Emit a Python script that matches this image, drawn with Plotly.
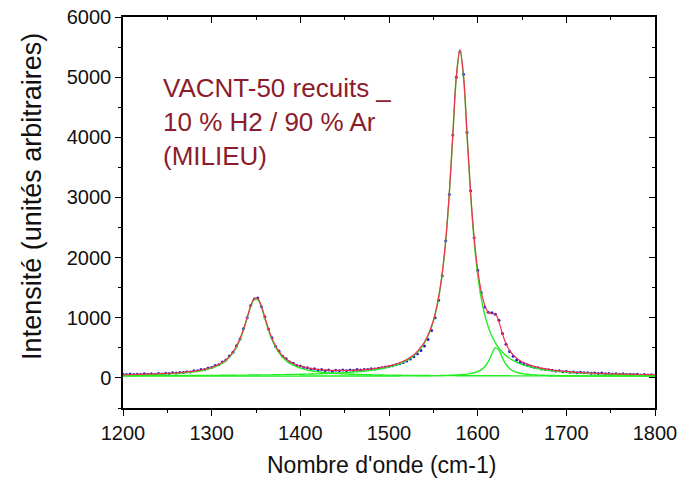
import plotly.graph_objects as go

# Raman shift grid (cm-1), sampled every 4 cm-1
wavenumber = list(range(1200, 1801, 4))

# Measured spectrum (blue dots)
intensity = [
    62, 58, 66, 55, 63, 58, 68, 60, 70, 62,
    72, 66, 78, 72, 84, 80, 91, 90, 102, 100,
    118, 119, 138, 141, 165, 172, 205, 221, 266, 298,
    365, 425, 536, 648, 822, 1000, 1204, 1312, 1330, 1188,
    1015, 812, 668, 528, 446, 362, 320, 266, 244, 208,
    198, 172, 170, 150, 152, 132, 140, 118, 130, 112,
    128, 120, 130, 118, 132, 124, 138, 130, 142, 140,
    152, 150, 160, 170, 180, 190, 204, 218, 236, 258,
    282, 316, 352, 400, 455, 530, 640, 790, 1000, 1290,
    1700, 2280, 3050, 4040, 5000, 5420, 5050, 4080, 3110, 2330,
    1790, 1420, 1180, 1090, 1085, 1060, 960, 740, 560, 440,
    360, 300, 262, 230, 210, 192, 176, 168, 150, 146,
    134, 126, 116, 120, 104, 108, 95, 99, 88, 93,
    84, 88, 76, 83, 72, 80, 70, 74, 64, 70,
    60, 68, 58, 63, 55, 61, 49, 58, 50, 54,
    44,
]

# Cumulative fit (red line)
fit_total = [
    53, 55, 56, 57, 58, 60, 61, 63, 64, 66,
    69, 71, 74, 77, 80, 84, 88, 94, 99, 106,
    113, 122, 132, 144, 159, 177, 198, 225, 259, 302,
    358, 431, 528, 654, 815, 1006, 1195, 1321, 1322, 1197,
    1009, 820, 660, 535, 440, 368, 314, 272, 239, 214,
    195, 179, 166, 156, 148, 141, 136, 132, 129, 127,
    125, 125, 125, 126, 127, 129, 132, 135, 139, 144,
    150, 157, 165, 175, 186, 199, 214, 231, 252, 277,
    307, 343, 387, 442, 511, 598, 712, 863, 1066, 1346,
    1740, 2297, 3070, 4054, 5026, 5459, 5034, 4070, 3097, 2338,
    1801, 1439, 1210, 1091, 1068, 1062, 932, 730, 568, 458,
    383, 328, 287, 255, 229, 208, 190, 175, 162, 151,
    141, 132, 125, 118, 112, 107, 102, 97, 93, 90,
    86, 83, 81, 78, 76, 73, 71, 69, 68, 66,
    64, 63, 62, 60, 59, 58, 57, 56, 55, 54,
    53,
]

# Fit components (green lines): D band, G band, D' band
comp_D = [
    46, 47, 48, 49, 50, 52, 53, 55, 56, 58,
    60, 62, 65, 68, 71, 74, 79, 83, 89, 95,
    102, 110, 120, 132, 146, 164, 185, 212, 245, 288,
    344, 416, 512, 638, 799, 988, 1177, 1302, 1302, 1177,
    988, 799, 638, 512, 416, 344, 288, 245, 212, 185,
    164, 146, 132, 120, 110, 102, 95, 89, 83, 79,
    74, 71, 68, 65, 62, 60, 58, 56, 55, 53,
    52, 50, 49, 48, 47, 46, 46, 45, 44, 43,
    43, 42, 42, 41, 41, 40, 40, 39, 39, 39,
    38, 38, 38, 38, 37, 37, 37, 37, 36, 36,
    36, 36, 36, 35, 35, 35, 35, 35, 35, 35,
    34, 34, 34, 34, 34, 34, 34, 34, 34, 34,
    33, 33, 33, 33, 33, 33, 33, 33, 33, 33,
    33, 33, 33, 33, 33, 32, 32, 32, 32, 32,
    32, 32, 32, 32, 32, 32, 32, 32, 32, 32,
    32,
]
comp_G = [
    37, 37, 37, 37, 37, 38, 38, 38, 38, 38,
    39, 39, 39, 39, 39, 40, 40, 40, 40, 41,
    41, 41, 42, 42, 42, 43, 43, 43, 44, 44,
    45, 45, 46, 46, 47, 47, 48, 48, 49, 50,
    50, 51, 52, 53, 54, 55, 56, 57, 58, 59,
    60, 62, 63, 65, 66, 68, 70, 72, 75, 77,
    80, 83, 86, 89, 93, 98, 102, 107, 113, 120,
    127, 135, 144, 154, 166, 180, 195, 213, 235, 260,
    290, 327, 371, 426, 495, 582, 696, 846, 1049, 1328,
    1721, 2277, 3049, 4031, 5000, 5430, 5000, 4031, 3049, 2277,
    1721, 1328, 1049, 846, 696, 582, 495, 426, 371, 327,
    290, 260, 235, 213, 195, 180, 166, 154, 144, 135,
    127, 120, 113, 107, 102, 98, 93, 89, 86, 83,
    80, 77, 75, 72, 70, 68, 66, 65, 63, 62,
    60, 59, 58, 57, 56, 55, 54, 53, 52, 51,
    50,
]
comp_Dprime = [
    30, 30, 30, 30, 30, 30, 30, 30, 30, 30,
    30, 30, 30, 30, 30, 30, 30, 30, 30, 30,
    30, 30, 30, 30, 30, 30, 30, 30, 30, 30,
    30, 30, 30, 30, 30, 30, 30, 30, 30, 30,
    30, 30, 30, 30, 30, 30, 30, 30, 30, 30,
    31, 31, 31, 31, 31, 31, 31, 31, 31, 31,
    31, 31, 31, 31, 31, 32, 32, 32, 32, 32,
    32, 32, 32, 32, 33, 33, 33, 33, 33, 34,
    34, 34, 35, 35, 35, 36, 37, 37, 38, 39,
    40, 42, 44, 46, 49, 52, 57, 63, 72, 85,
    105, 135, 186, 270, 397, 504, 462, 329, 223, 157,
    118, 94, 78, 67, 60, 54, 50, 47, 45, 43,
    41, 40, 39, 38, 37, 36, 36, 35, 35, 34,
    34, 34, 33, 33, 33, 33, 33, 32, 32, 32,
    32, 32, 32, 32, 32, 32, 31, 31, 31, 31,
    31,
]

for arr in (intensity, fit_total, comp_D, comp_G, comp_Dprime):
    assert len(arr) == len(wavenumber), len(arr)

x_ticks = [1200, 1300, 1400, 1500, 1600, 1700, 1800]
y_ticks = [0, 1000, 2000, 3000, 4000, 5000, 6000]
sample_label = "VACNT-50 recuits _<br>10 % H2 / 90 % Ar<br>(MILIEU)"
x_title = "Nombre d'onde (cm-1)"
y_title = "Intensité (unités arbitraires)"

FONT = "Liberation Sans, Arial, sans-serif"
GREEN = "#22ee22"
RED = "#f2304e"
BLUE = "#1c1cd8"

fig = go.Figure()
fig.add_trace(go.Scatter(x=wavenumber, y=intensity, mode="markers",
                         marker=dict(color=BLUE, size=3), name="data"))
for comp in (comp_D, comp_G, comp_Dprime):
    fig.add_trace(go.Scatter(x=wavenumber, y=comp, mode="lines",
                             line=dict(color=GREEN, width=1.4, shape="spline"),
                             name="component"))
fig.add_trace(go.Scatter(x=wavenumber, y=fit_total, mode="lines",
                         line=dict(color=RED, width=1.2, shape="spline"),
                         name="fit"))
# empty trace to register the mirrored top/right axes
fig.add_trace(go.Scatter(x=[], y=[], xaxis="x2", yaxis="y2", showlegend=False))

xr = [1200, 1800]
yr = [-500, 6000]

fig.update_layout(
    width=696, height=482,
    margin=dict(l=123, r=41, t=17, b=74, autoexpand=False),
    paper_bgcolor="white", plot_bgcolor="white",
    showlegend=False,
    font=dict(family=FONT, color="#111111"),
    xaxis=dict(
        range=xr, tickvals=x_ticks, ticks="outside", ticklen=6, tickwidth=1.2,
        tickcolor="black", showline=True, linecolor="black", linewidth=1.5,
        showgrid=False, zeroline=False, tickfont=dict(size=20), automargin=False,
        minor=dict(dtick=50, tick0=1200, ticks="outside", ticklen=3, tickcolor="black"),
    ),
    yaxis=dict(
        range=yr, tickvals=y_ticks, ticks="outside", ticklen=6, tickwidth=1.2,
        tickcolor="black", showline=True, linecolor="black", linewidth=1.5,
        showgrid=False, zeroline=False, tickfont=dict(size=20), automargin=False,
        minor=dict(dtick=500, tick0=0, ticks="outside", ticklen=3, tickcolor="black"),
    ),
    xaxis2=dict(
        range=xr, overlaying="x", side="top", anchor="y", tickvals=x_ticks,
        ticks="inside", ticklen=6, tickcolor="black", showticklabels=False,
        showline=True, linecolor="black", linewidth=1.5, showgrid=False, zeroline=False,
        automargin=False,
        minor=dict(dtick=50, tick0=1200, ticks="inside", ticklen=3, tickcolor="black"),
    ),
    yaxis2=dict(
        range=yr, overlaying="y", side="right", anchor="x", tickvals=y_ticks,
        ticks="inside", ticklen=6, tickcolor="black", showticklabels=False,
        showline=True, linecolor="black", linewidth=1.5, showgrid=False, zeroline=False,
        automargin=False,
        minor=dict(dtick=500, tick0=0, ticks="inside", ticklen=3, tickcolor="black"),
    ),
    annotations=[
        dict(text=sample_label, x=1243, y=5110, xref="x", yref="y",
             xanchor="left", yanchor="top", align="left", showarrow=False,
             font=dict(size=26, color="#8c1c2c", family=FONT)),
        dict(text=x_title, x=0.485, y=-0.146, xref="paper", yref="paper",
             xanchor="center", yanchor="middle", showarrow=False,
             font=dict(size=23, family=FONT, color="#111111")),
        dict(text=y_title, x=-0.171, y=0.54, xref="paper", yref="paper",
             xanchor="center", yanchor="middle", textangle=-90, showarrow=False,
             font=dict(size=27, family=FONT, color="#111111")),
    ],
)

fig.write_html("out.html", config={"displayModeBar": False},
               post_script="document.body.style.margin='0px';")
